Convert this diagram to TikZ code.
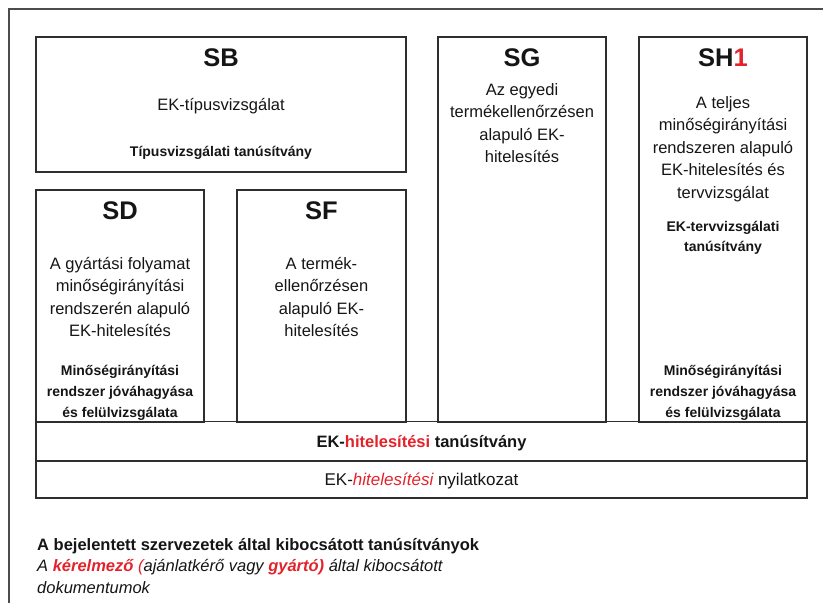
\documentclass[tikz,border=0pt]{standalone}
\usepackage{fontspec}
\setmainfont{Liberation Sans}
\definecolor{ink}{HTML}{151515}
\definecolor{hred}{HTML}{E3232B}
\definecolor{edge}{HTML}{2E2E2E}
\newcommand{\fstrut}{\rule{0pt}{16pt}}
\newcommand{\regf}{\fontsize{16.5pt}{22.5pt}\selectfont}
\newcommand{\boldf}{\fontsize{14pt}{21pt}\selectfont\bfseries}
\newcommand{\titlef}{\fontsize{25.5pt}{30pt}\selectfont\bfseries}
\begin{document}
\begin{tikzpicture}[x=1pt,y=-1pt,
  box/.style={draw=edge, line width=1.3pt, rectangle, inner sep=0pt},
  ttl/.style={anchor=base, inner sep=0pt, text=ink, font=\titlef},
  blk/.style={anchor=north, inner sep=0pt, align=center, text=ink},
  frame/.style={draw=black!70, line width=1.2pt}]
\useasboundingbox (0,0) rectangle (823,603);
\draw[frame] (9,603) -- (9,9) -- (823,9);
% boxes
\node[box, minimum width=370pt, minimum height=135pt] (sb) at (221,104.5) {};
\node[box, minimum width=168pt, minimum height=385pt] (sg) at (522,229.5) {};
\node[box, minimum width=168pt, minimum height=385pt] (sh) at (723,229.5) {};
\node[box, minimum width=168pt, minimum height=232pt] (sd) at (120,306) {};
\node[box, minimum width=169pt, minimum height=232pt] (sf) at (321.5,306) {};
\node[box, minimum width=771pt, minimum height=40pt] (row1) at (421.5,441.5) {};
\node[box, minimum width=771pt, minimum height=37pt] (row2) at (421.5,479.5) {};
% titles
\node[ttl] (tsb) at (221,66.5) {SB};
\node[ttl] (tsg) at (522,66.5) {SG};
\node[ttl] (tsh) at (723,66.5) {SH{\color{hred}1}};
\node[ttl] (tsd) at (120,219.5) {SD};
\node[ttl] (tsf) at (321.5,219.5) {SF};
% SB texts
\node[blk, font=\regf] (sb1) at (221,110.5-16) {\fstrut EK-típusvizsgálat};
\node[blk, font=\boldf] (sb2) at (221,156-16) {\fstrut Típusvizsgálati tanúsítvány};
% SG
\node[blk, font=\regf] (sg1) at (522,95-16) {\fstrut Az egyedi\\termékellenőrzésen\\alapuló EK-\\hitelesítés};
% SH1
\node[blk, font=\regf] (sh1) at (723,108-16) {\fstrut A teljes\\minőségirányítási\\rendszeren alapuló\\EK-hitelesítés és\\tervvizsgálat};
\node[blk, font=\boldf, text depth=0pt] (sh2) at (723,231-16) {\fstrut EK-tervvizsgálati\\[-1pt]tanúsítvány};
\node[blk, font=\boldf] (sh3) at (723,375-16) {\fstrut Minőségirányítási\\rendszer jóváhagyása\\és felülvizsgálata};
% SD
\node[blk, font=\regf] (sd1) at (120,269-16) {\fstrut A gyártási folyamat\\minőségirányítási\\rendszerén alapuló\\EK-hitelesítés};
\node[blk, font=\boldf] (sd2) at (120,375-16) {\fstrut Minőségirányítási\\rendszer jóváhagyása\\és felülvizsgálata};
% SF
\node[blk, font=\regf] (sf1) at (321.5,269-16) {\fstrut A termék-\\ellenőrzésen\\alapuló EK-\\hitelesítés};
% rows
\node[blk, font={\fontsize{16.5pt}{20pt}\selectfont\bfseries}] (r1) at (421.5,447-16) {\fstrut EK-{\color{hred}hitelesítési} tanúsítvány};
\node[blk, font={\fontsize{17pt}{20pt}\selectfont}] (r2) at (421.5,485.5-16) {\fstrut EK-{\color{hred}\itshape hitelesítési} nyilatkozat};
% legend
\node[anchor=base west, inner sep=0pt, text=ink, font={\fontsize{16.5pt}{20pt}\selectfont\bfseries}] (lg1) at (37,550) {A bejelentett szervezetek által kibocsátott tanúsítványok};
\node[anchor=north west, inner sep=0pt, align=left, text=ink, font={\fontsize{16.5pt}{22pt}\selectfont\itshape}] (lg2) at (37,571.5-16) {\fstrut A {\color{hred}\bfseries kérelmező} {\color{hred}(}ajánlatkérő vagy {\color{hred}\bfseries gyártó)} által kibocsátott\\dokumentumok};
\end{tikzpicture}
\end{document}
